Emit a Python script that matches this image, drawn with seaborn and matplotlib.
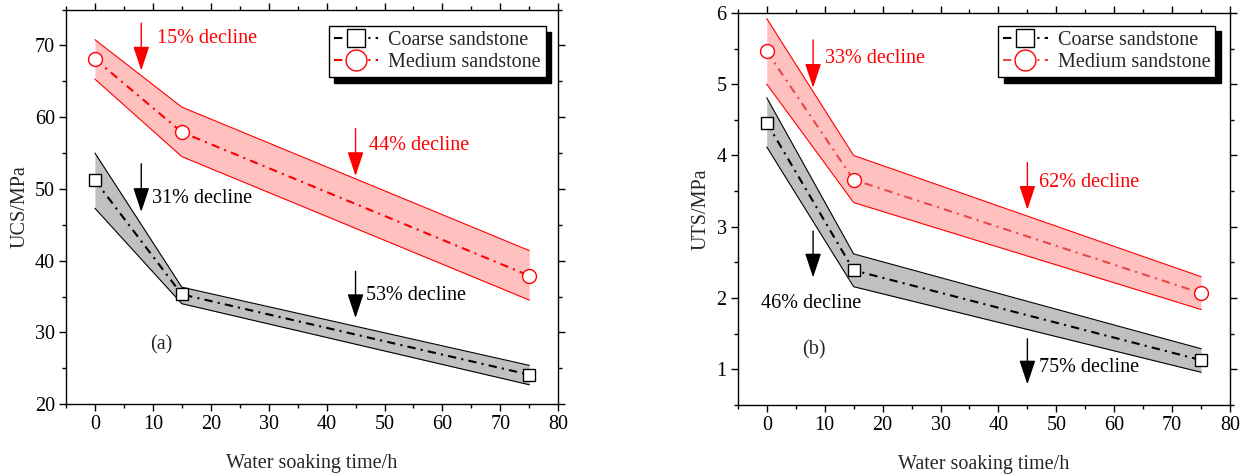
import matplotlib

matplotlib.use("Agg")
import matplotlib.pyplot as plt
import pandas as pd
import seaborn as sns
from matplotlib.ticker import MultipleLocator

SOAK_HOURS = [0, 15, 75]
ROCKS = ["Coarse sandstone", "Medium sandstone"]

# (a) uniaxial compressive strength, MPa
UCS_COARSE = [51.2, 35.3, 24.1]
UCS_COARSE_LOW = [47.3, 34.0, 22.7]
UCS_COARSE_HIGH = [55.0, 36.3, 25.4]
UCS_MEDIUM = [68.1, 57.9, 37.9]
UCS_MEDIUM_LOW = [65.3, 54.5, 34.5]
UCS_MEDIUM_HIGH = [70.8, 61.4, 41.4]

# (b) uniaxial tensile strength, MPa
UTS_COARSE = [4.46, 2.39, 1.13]
UTS_COARSE_LOW = [4.12, 2.16, 0.96]
UTS_COARSE_HIGH = [4.81, 2.62, 1.29]
UTS_MEDIUM = [5.46, 3.66, 2.07]
UTS_MEDIUM_LOW = [5.00, 3.34, 1.84]
UTS_MEDIUM_HIGH = [5.92, 4.00, 2.30]

# decline notes: label, colour, arrow x, arrow start y, arrow tip y, text x, text y
UCS_NOTES = [
	("15% decline", "red", 8, 73.1, 66.5, 10.7, 70.9),
	("44% decline", "red", 45, 58.4, 51.8, 47.4, 56.1),
	("31% decline", "black", 8, 53.5, 46.8, 9.9, 48.7),
	("53% decline", "black", 45, 38.5, 32.0, 46.8, 35.2),
]
UTS_NOTES = [
	("33% decline", "red", 8, 5.62, 4.95, 10.0, 5.36),
	("62% decline", "red", 45, 3.90, 3.24, 47.0, 3.62),
	("46% decline", "black", 8, 2.94, 2.29, -1.0, 1.93),
	("75% decline", "black", 45, 1.43, 0.79, 47.0, 1.03),
]

FONT_SIZE = 14.5
DASH_DOT = (0, (4, 2.5, 1, 2.5))


def _draw_panel(ax, coarse, coarse_band, medium, medium_band, notes, tag, tag_xy, ylabel, medium_color):
	bands = [
		(coarse_band, "#c0c0c0", "black"),
		(medium_band, "#ffc0c0", "red"),
	]
	for (low, high), fill, edge in bands:
		ax.fill_between(SOAK_HOURS, low, high, color=fill, lw=0, zorder=1)
		ax.plot(SOAK_HOURS, low, color=edge, lw=0.8, zorder=2)
		ax.plot(SOAK_HOURS, high, color=edge, lw=0.8, zorder=2)

	df = pd.DataFrame({
		"hours": SOAK_HOURS * 2,
		"value": coarse + medium,
		"rock": [ROCKS[0]] * 3 + [ROCKS[1]] * 3,
	})
	styles = {
		ROCKS[0]: ("black", "black", "s", 9),
		ROCKS[1]: (medium_color, "red", "o", 10),
	}
	for rock, sub in df.groupby("rock", sort=False):
		color, edge, marker, size = styles[rock]
		sns.lineplot(
			data=sub, x="hours", y="value", ax=ax, color=color,
			linestyle=DASH_DOT, lw=1.5, marker=marker, markersize=size,
			markerfacecolor="white", markeredgecolor=edge, markeredgewidth=1.0,
			errorbar=None, label=rock, zorder=3,
		)

	for label, color, ax_x, y0, y1, tx, ty in notes:
		ax.annotate(
			"", xy=(ax_x, y1), xytext=(ax_x, y0),
			arrowprops=dict(
				arrowstyle="-|>,head_length=0.75,head_width=0.25",
				color=color, lw=1.0, mutation_scale=20, shrinkA=0, shrinkB=0,
			),
			zorder=4,
		)
		ax.text(tx, ty, label, color=color, fontsize=FONT_SIZE, ha="left", va="center", zorder=4)
	ax.text(tag_xy[0], tag_xy[1], tag, fontsize=FONT_SIZE, ha="center", va="center")

	ax.set_xlim(-5, 80)
	ax.xaxis.set_major_locator(MultipleLocator(10))
	ax.xaxis.set_minor_locator(MultipleLocator(5))
	ax.tick_params(which="both", direction="out", top=True, right=True,
		labeltop=False, labelright=False, width=1.0, colors="black", labelsize=FONT_SIZE)
	ax.tick_params(which="major", length=5, pad=3)
	ax.tick_params(which="minor", length=3)
	for spine in ax.spines.values():
		spine.set_linewidth(1.0)
		spine.set_color("black")
	ax.set_xlabel("Water soaking time/h", fontsize=FONT_SIZE, labelpad=14)
	ax.set_ylabel(ylabel, fontsize=FONT_SIZE, labelpad=4)


def main() -> None:
	sns.set_style("ticks")
	plt.rcParams["font.family"] = ["Liberation Serif", "DejaVu Serif"]
	plt.rcParams["mathtext.fontset"] = "stix"

	fig = plt.figure(figsize=(12.4, 4.76), dpi=100)
	ax_a = fig.add_axes([0.0532, 0.151, 0.397, 0.829])
	ax_b = fig.add_axes([0.595, 0.149, 0.397, 0.824])

	_draw_panel(
		ax_a, UCS_COARSE, (UCS_COARSE_LOW, UCS_COARSE_HIGH),
		UCS_MEDIUM, (UCS_MEDIUM_LOW, UCS_MEDIUM_HIGH),
		UCS_NOTES, "(a)", (11.4, 28.2), "UCS/MPa", "red",
	)
	ax_a.set_ylim(20, 75)
	ax_a.yaxis.set_major_locator(MultipleLocator(10))
	ax_a.yaxis.set_minor_locator(MultipleLocator(5))

	_draw_panel(
		ax_b, UTS_COARSE, (UTS_COARSE_LOW, UTS_COARSE_HIGH),
		UTS_MEDIUM, (UTS_MEDIUM_LOW, UTS_MEDIUM_HIGH),
		UTS_NOTES, "(b)", (8.2, 1.27), "UTS/MPa", "#e84848",
	)
	ax_b.set_ylim(0.5, 6)
	ax_b.yaxis.set_major_locator(MultipleLocator(1))
	ax_b.yaxis.set_minor_locator(MultipleLocator(0.5))

	for ax, anchor in ((ax_a, (0.975, 0.958)), (ax_b, (0.97, 0.967))):
		leg = ax.legend(
			loc="upper right", bbox_to_anchor=anchor, borderaxespad=0,
			frameon=True, fancybox=False, edgecolor="black", framealpha=1,
			shadow={"color": "black", "alpha": 1, "ox": 4, "oy": -4},
			handlelength=2.2, handletextpad=0.5, borderpad=0.25,
			labelspacing=0.15, markerscale=1.5, fontsize=FONT_SIZE,
		)
		leg.get_frame().set_linewidth(1.0)

	fig.savefig("out.png", dpi=100)
	plt.close(fig)


if __name__ == "__main__":
	main()
